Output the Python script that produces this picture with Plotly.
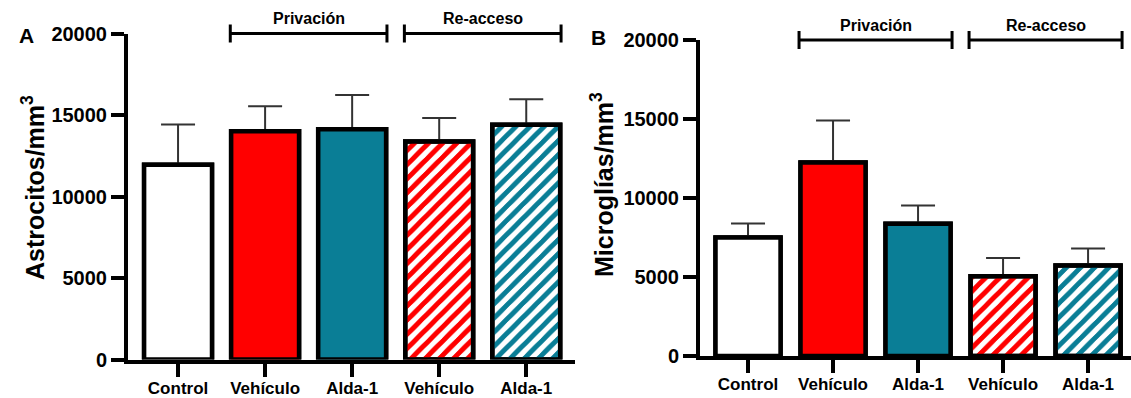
import plotly.graph_objects as go

# Group labels shared by both panels
groups = ["Control", "Vehículo", "Alda-1", "Vehículo", "Alda-1"]
bar_colors = ["#FFFFFF", "#FF0000", "#0A7E96", "#FF0000", "#0A7E96"]
hatch = ["", "", "", "/", "/"]

# Panel A: astrocytes per mm3 (mean and SEM)
astro_mean = [11950, 14000, 14130, 13370, 14400]
astro_sem = [2460, 1530, 2100, 1450, 1560]

# Panel B: microglia per mm3 (mean and SEM)
micro_mean = [7500, 12240, 8370, 5050, 5720]
micro_sem = [890, 2670, 1150, 1150, 1090]

y_ticks = [0, 5000, 10000, 15000, 20000]
periods = [("Privación", 1, 2), ("Re-acceso", 3, 4)]

FONT = "Arial, Liberation Sans, sans-serif"
W, H = 1131, 398

fig = go.Figure()


def bar_marker():
    return dict(
        color=bar_colors,
        line=dict(color="black", width=4.5),
        pattern=dict(shape=hatch, fgcolor="white", size=10,
                     solidity=0.45, fillmode="replace"),
    )


def add_panel(means, sems, xa, ya, width):
    xs = list(range(len(means)))
    # bars carrying the upper SEM whiskers
    fig.add_trace(go.Bar(
        x=xs, y=means, width=width, xaxis=xa, yaxis=ya,
        marker=bar_marker(),
        error_y=dict(type="data", array=sems, arrayminus=[0] * len(sems),
                     symmetric=False, color="#333333", thickness=2, width=17),
        showlegend=False, hoverinfo="skip",
    ))
    # same bars drawn again on top so only the whisker above each bar shows
    fig.add_trace(go.Bar(
        x=xs, y=means, width=width, xaxis=xa, yaxis=ya,
        marker=bar_marker(), showlegend=False, hoverinfo="skip",
    ))


add_panel(astro_mean, astro_sem, "x", "y", 0.78)
add_panel(micro_mean, micro_sem, "x2", "y2", 0.765)

axis_common = dict(showline=True, linewidth=4, linecolor="black",
                   ticks="outside", tickwidth=4, tickcolor="black",
                   showgrid=False, zeroline=False, automargin=False)

xt = dict(tickvals=list(range(len(groups))), ticktext=groups, ticklen=13,
          ticklabelstandoff=-3,
          tickfont=dict(family=FONT, size=17, color="black", weight="bold"),
          **axis_common)
yt = dict(range=[0, 20000], tickvals=y_ticks, tickformat="d", ticklen=13,
          tickfont=dict(family=FONT, size=20, color="black", weight="bold"),
          **axis_common)

fig.update_layout(
    width=W, height=H,
    margin=dict(l=0, r=0, t=0, b=0),
    paper_bgcolor="white", plot_bgcolor="white",
    barmode="overlay",
    xaxis=dict(domain=[128 / W, 575 / W], range=[-0.575, 4.56], anchor="y", **xt),
    yaxis=dict(domain=[(H - 359.5) / H, (H - 33.5) / H], anchor="x", **yt),
    xaxis2=dict(domain=[700 / W, 1.0], range=[-0.565, 4.505], anchor="y2", **xt),
    yaxis2=dict(domain=[(H - 356) / H, (H - 40) / H], anchor="x2", **yt),
)

# Period brackets above each panel
for xa, ya in (("x", "y"), ("x2", "y2")):
    for label, a, b in periods:
        x0, x1 = a - 0.4, b + 0.4
        line = dict(color="black", width=3)
        fig.add_shape(type="line", xref=xa, yref=f"{ya} domain",
                      x0=x0, x1=x1, y0=1, y1=1, line=line)
        for xc in (x0, x1):
            fig.add_shape(type="line", xref=xa, yref=f"{ya} domain",
                          ysizemode="pixel", yanchor=1, y0=-9, y1=9,
                          x0=xc, x1=xc, line=line)
        fig.add_annotation(xref=xa, yref=f"{ya} domain", x=(a + b) / 2, y=1,
                           yshift=15, xanchor="center", yanchor="middle",
                           text=label, showarrow=False,
                           font=dict(family=FONT, size=16, color="black",
                                     weight="bold"))

# Axis titles and panel letters
title_font = dict(family=FONT, size=25, color="black", weight="bold")
fig.add_annotation(xref="paper", yref="paper", x=33 / W, y=(H - 188) / H,
                   xanchor="center", yanchor="middle",
                   text="Astrocitos/mm<sup>3</sup>", textangle=-90,
                   showarrow=False, font=title_font)
fig.add_annotation(xref="paper", yref="paper", x=602 / W, y=(H - 185) / H,
                   xanchor="center", yanchor="middle",
                   text="Microglías/mm<sup>3</sup>", textangle=-90,
                   showarrow=False, font=title_font)
letter_font = dict(family=FONT, size=21, color="black", weight="bold")
fig.add_annotation(xref="paper", yref="paper", x=26 / W, y=(H - 36) / H,
                   xanchor="center", yanchor="middle",
                   text="A", showarrow=False, font=letter_font)
fig.add_annotation(xref="paper", yref="paper", x=598 / W, y=(H - 38) / H,
                   xanchor="center", yanchor="middle",
                   text="B", showarrow=False, font=letter_font)

fig.write_html("out.html")
